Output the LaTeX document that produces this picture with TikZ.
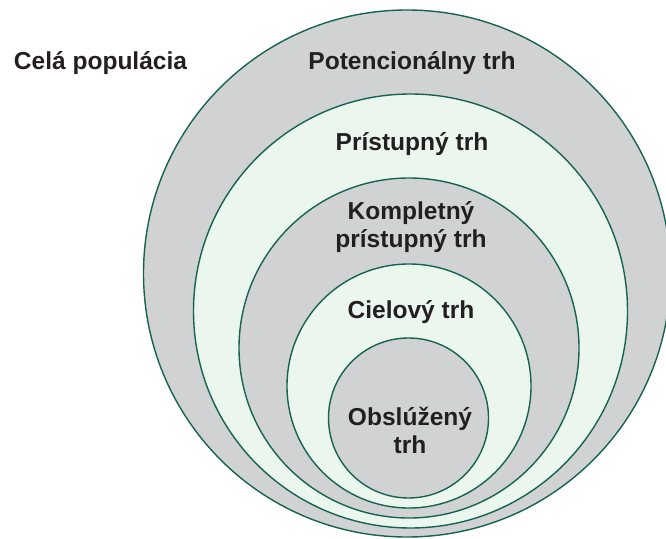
\documentclass[tikz,border=0pt]{standalone}
\usepackage{fontspec}
\setmainfont{Liberation Sans}
\definecolor{ringgray}{RGB}{209,210,212}
\definecolor{ringgreen}{RGB}{234,246,238}
\definecolor{ringline}{RGB}{22,100,80}
\definecolor{labeltext}{RGB}{35,31,32}
\tikzset{
  ring/.style={draw=ringline, line width=1.05pt},
  lbl/.style={font=\fontsize{18.4}{21}\selectfont\bfseries, text=labeltext, align=center, inner sep=0pt}
}
\begin{document}
\begin{tikzpicture}[x=0.75pt, y=-0.75pt]

\useasboundingbox (0,0) rectangle (666,538);
\clip (0,0) rectangle (666,538);

%Circles
\path (407,273.5) coordinate (c1);
\path (410.5,311) coordinate (c2);
\path (409,348) coordinate (c3);
\path (409,386) coordinate (c4);
\path (408.5,418) coordinate (c5);
\filldraw[ring, fill=ringgray] (c1) circle (263.5);
\filldraw[ring, fill=ringgreen] (c2) circle (217);
\filldraw[ring, fill=ringgray] (c3) circle (170);
\filldraw[ring, fill=ringgreen] (c4) circle (122);
\filldraw[ring, fill=ringgray] (c5) circle (80);

%Labels
\node[lbl] (all) at (100.5,63) {Celá populácia};
\node[lbl] (pot) at (412,63) {Potencionálny trh};
\node[lbl] (acc) at (412,144) {Prístupný trh};
\node[lbl] (comp) at (411,227.5) {Kompletný\\prístupný trh};
\node[lbl] (tgt) at (411,312) {Cielový trh};
\node[lbl] (srv) at (410,430) {Obslúžený\\trh};

\end{tikzpicture}
\end{document}
